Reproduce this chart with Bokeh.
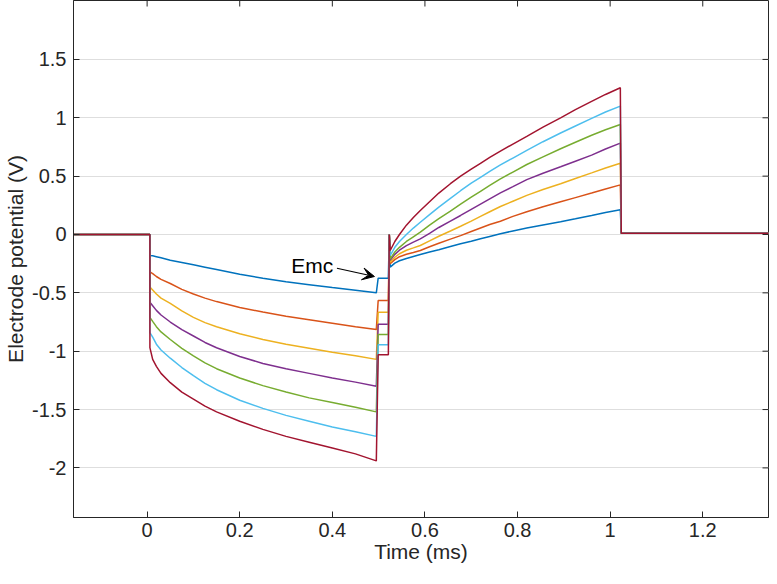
from bokeh.plotting import figure
from bokeh.models import Range1d, FixedTicker, Arrow, VeeHead, Label
from bokeh.embed import file_html
from bokeh.resources import INLINE

# ---------------- data ----------------
colors = ["#0072BD", "#D95319", "#EDB120", "#7E2F8E", "#77AC30", "#4DBEEE", "#A2142F"]

# baseline before the pulse
t_pre = [-0.16, 0.006]
v_pre = [0.0, 0.0]

# negative phase
t_neg = [0.006, 0.012, 0.02, 0.03, 0.05, 0.075, 0.1, 0.125, 0.15, 0.2, 0.25, 0.3, 0.35, 0.4, 0.45, 0.495]
neg_blue = [-0.18, -0.183, -0.19, -0.20, -0.22, -0.24, -0.26, -0.28, -0.30, -0.34, -0.375, -0.405, -0.43, -0.455, -0.478, -0.50]
neg_orange = [-0.32, -0.335, -0.36, -0.385, -0.42, -0.47, -0.51, -0.545, -0.575, -0.625, -0.665, -0.70, -0.73, -0.76, -0.79, -0.815]
neg_yellow = [-0.45, -0.475, -0.51, -0.545, -0.59, -0.655, -0.71, -0.755, -0.79, -0.85, -0.90, -0.94, -0.975, -1.01, -1.04, -1.07]
neg_purple = [-0.58, -0.61, -0.65, -0.69, -0.75, -0.815, -0.87, -0.925, -0.97, -1.045, -1.105, -1.15, -1.19, -1.23, -1.265, -1.30]
neg_green = [-0.71, -0.745, -0.79, -0.835, -0.90, -0.975, -1.04, -1.10, -1.15, -1.23, -1.295, -1.35, -1.40, -1.44, -1.48, -1.52]
neg_cyan = [-0.84, -0.88, -0.94, -0.99, -1.06, -1.14, -1.21, -1.275, -1.33, -1.42, -1.49, -1.55, -1.60, -1.65, -1.69, -1.73]
neg_red = [-0.97, -1.07, -1.13, -1.19, -1.27, -1.35, -1.41, -1.47, -1.52, -1.60, -1.67, -1.73, -1.78, -1.83, -1.88, -1.94]

# short plateau after the step at 0.5 ms (Emc), then spike
t_step = [0.499, 0.521, 0.523]
step_blue = [-0.374, -0.374, 0.0]
step_orange = [-0.566, -0.566, 0.0]
step_yellow = [-0.666, -0.666, 0.0]
step_purple = [-0.77, -0.77, 0.0]
step_green = [-0.857, -0.857, 0.0]
step_cyan = [-0.945, -0.945, 0.0]
step_red = [-1.03, -1.03, 0.0]

# positive phase
t_rise = [0.525, 0.535, 0.545, 0.56, 0.575, 0.59, 0.61, 0.63, 0.655, 0.677, 0.7,
          0.72, 0.74, 0.763, 0.79, 0.82, 0.855, 0.893, 0.925, 0.96, 0.99, 1.022]
rise_blue = [-0.28, -0.245, -0.225, -0.205, -0.188, -0.171, -0.15, -0.13, -0.103, -0.08, -0.058,
             -0.037, -0.017, 0.006, 0.03, 0.055, 0.082, 0.11, 0.135, 0.163, 0.188, 0.212]
rise_orange = [-0.25, -0.215, -0.19, -0.17, -0.155, -0.137, -0.105, -0.075, -0.04, -0.01, 0.025,
               0.055, 0.085, 0.114, 0.155, 0.195, 0.237, 0.28, 0.316, 0.355, 0.39, 0.425]
rise_yellow = [-0.237, -0.195, -0.165, -0.135, -0.115, -0.094, -0.055, -0.015, 0.03, 0.071, 0.115,
               0.155, 0.195, 0.24, 0.285, 0.335, 0.385, 0.435, 0.48, 0.528, 0.57, 0.611]
rise_purple = [-0.22, -0.17, -0.135, -0.095, -0.065, -0.037, 0.01, 0.06, 0.115, 0.163, 0.215,
               0.26, 0.305, 0.357, 0.41, 0.47, 0.525, 0.58, 0.628, 0.68, 0.733, 0.783]
rise_green = [-0.21, -0.15, -0.11, -0.06, -0.02, 0.02, 0.08, 0.135, 0.2, 0.26, 0.32,
              0.37, 0.42, 0.477, 0.535, 0.60, 0.665, 0.735, 0.79, 0.85, 0.897, 0.943]
rise_cyan = [-0.18, -0.11, -0.06, 0.0, 0.055, 0.105, 0.17, 0.235, 0.31, 0.375, 0.44,
             0.49, 0.54, 0.597, 0.655, 0.72, 0.795, 0.87, 0.93, 0.995, 1.05, 1.10]
rise_red = [-0.137, -0.06, 0.0, 0.08, 0.145, 0.206, 0.28, 0.355, 0.435, 0.50, 0.56,
            0.61, 0.66, 0.715, 0.775, 0.84, 0.92, 1.0, 1.07, 1.14, 1.20, 1.257]

# baseline after the pulse
t_post = [1.024, 1.36]
v_post = [0.01, 0.01]

x_ticks = [0, 0.2, 0.4, 0.6, 0.8, 1.0, 1.2]
x_tick_labels = ["0", "0.2", "0.4", "0.6", "0.8", "1", "1.2"]
y_ticks = [-2, -1.5, -1, -0.5, 0, 0.5, 1, 1.5]
y_tick_labels = ["-2", "-1.5", "-1", "-0.5", "0", "0.5", "1", "1.5"]

negs = [neg_blue, neg_orange, neg_yellow, neg_purple, neg_green, neg_cyan, neg_red]
steps = [step_blue, step_orange, step_yellow, step_purple, step_green, step_cyan, step_red]
rises = [rise_blue, rise_orange, rise_yellow, rise_purple, rise_green, rise_cyan, rise_red]

# ---------------- figure ----------------
FONT = "Liberation Sans"
AX = "#262626"
W, H = 769, 568
BL, BR, BT, BB = 73, 1, 0, 51
X0, X1 = -0.159, 1.342
Y0, Y1 = -2.425, 2.005

p = figure(width=W, height=H, output_backend="svg", toolbar_location=None,
           x_range=Range1d(X0, X1), y_range=Range1d(Y0, Y1),
           min_border_left=BL, min_border_right=BR, min_border_top=BT, min_border_bottom=BB,
           background_fill_color="white", border_fill_color="white")
p.outline_line_color = AX
p.outline_line_width = 1
p.xgrid.visible = False
p.ygrid.ticker = FixedTicker(ticks=y_ticks)
p.ygrid.grid_line_color = "#dedede"
p.ygrid.grid_line_width = 1

for neg, st, ri, c in zip(negs, steps, rises, colors):
    xs = t_pre + t_neg + t_step + t_rise + t_post
    ys = v_pre + neg + st + ri + v_post
    p.line(xs, ys, line_color=c, line_width=1.5)

def style_axis(ax):
    ax.axis_line_color = AX
    ax.axis_line_width = 1
    ax.major_tick_line_color = AX
    ax.major_tick_in = 6
    ax.major_tick_out = 0
    ax.minor_tick_line_color = None
    ax.major_label_text_font = FONT
    ax.major_label_text_color = AX
    ax.major_label_text_font_size = "20px"
    ax.axis_label_text_font = FONT
    ax.axis_label_text_color = AX
    ax.axis_label_text_font_style = "normal"
    ax.axis_label_text_font_size = "21px"

xa = p.xaxis[0]
xa.ticker = FixedTicker(ticks=x_ticks)
xa.major_label_overrides = {t: l for t, l in zip(x_ticks, x_tick_labels)}
xa.axis_label = "Time (ms)"
style_axis(xa)
xa.major_label_standoff = 5
xa.axis_label_standoff = 0

ya = p.yaxis[0]
ya.ticker = FixedTicker(ticks=y_ticks)
ya.major_label_overrides = {t: l for t, l in zip(y_ticks, y_tick_labels)}
ya.axis_label = "Electrode potential (V)"
style_axis(ya)
ya.major_label_standoff = 7
ya.axis_label_standoff = 2

# inward ticks on the top and right edges of the box (MATLAB "box on")
frame_w = W - BL - BR
frame_h = H - BT - BB
tick_dx = 6 * (X1 - X0) / frame_w
tick_dy = 6 * (Y1 - Y0) / frame_h
p.segment(x0=x_ticks, y0=[Y1] * len(x_ticks), x1=x_ticks, y1=[Y1 - tick_dy] * len(x_ticks),
          line_color=AX, line_width=1)
p.segment(x0=[X1] * len(y_ticks), y0=y_ticks, x1=[X1 - tick_dx] * len(y_ticks), y1=y_ticks,
          line_color=AX, line_width=1)

# annotation
p.add_layout(Label(x=0.402, y=-0.266, text="Emc", text_align="right", text_baseline="middle",
                   text_font=FONT, text_font_size="21px", text_color="black"))
p.add_layout(Arrow(end=VeeHead(size=12, fill_color="black", line_color="black"),
                   x_start=0.41, y_start=-0.289, x_end=0.491, y_end=-0.36,
                   line_color="black", line_width=1.2))

open("out.html", "w").write(file_html(p, INLINE))
